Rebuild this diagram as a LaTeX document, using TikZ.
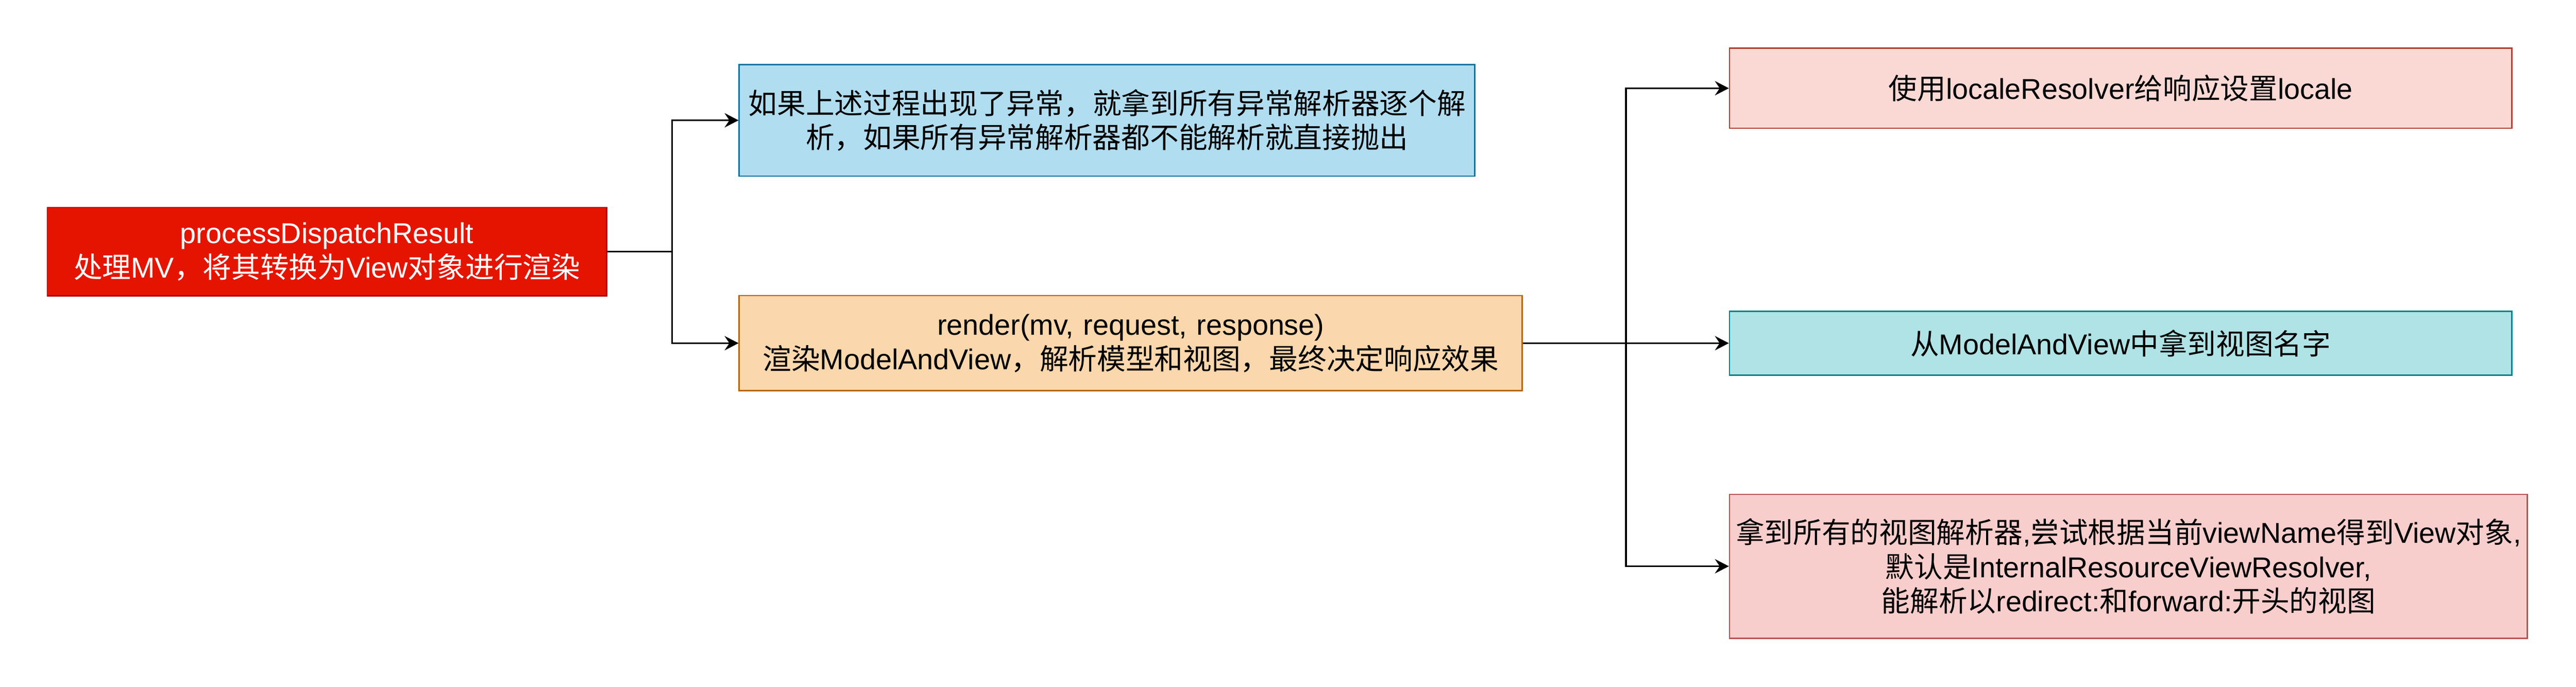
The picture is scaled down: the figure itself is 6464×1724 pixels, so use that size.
\documentclass[tikz,border=0pt]{standalone}
\usepackage{fontspec}
\setmainfont{Liberation Sans}
\newfontfamily\cjkfont{Noto Sans CJK SC}
\newcommand\zh[1]{{\cjkfont #1}}
\usetikzlibrary{arrows.meta}
\definecolor{redfill}{HTML}{E51400}
\definecolor{redline}{HTML}{B20000}
\definecolor{bluefill}{HTML}{B1DDF0}
\definecolor{blueline}{HTML}{10739E}
\definecolor{orafill}{HTML}{FAD7AC}
\definecolor{oraline}{HTML}{B46504}
\definecolor{pinkfill}{HTML}{FAD9D5}
\definecolor{pinkline}{HTML}{AE4132}
\definecolor{tealfill}{HTML}{B0E3E6}
\definecolor{tealline}{HTML}{0E8088}
\definecolor{rosefill}{HTML}{F8CECC}
\definecolor{roseline}{HTML}{B85450}
\tikzset{
  box/.style={draw, line width=0.9pt, rectangle, inner sep=0pt, align=center,
    font=\fontsize{18pt}{21.6pt}\selectfont},
  arr/.style={line width=1pt, -{Stealth[length=8.75pt, width=9pt, inset=3pt]}},
  conn/.style={line width=1pt}
}
\begin{document}
\begin{tikzpicture}[x=0.25pt, y=-0.25pt]
\useasboundingbox (0,0) rectangle (6464,1724);
\fill[white] (0,0) rectangle (6464,1724);

\node[box, fill=redfill, draw=redline, text=white, text width=350.75pt, minimum height=55.5pt]
  (red) at (820.5,632) {processDispatchResult\\\zh{处理}MV\zh{，将其转换为}View\zh{对象进行渲染}};

\node[box, fill=bluefill, draw=blueline, text width=461.5pt, minimum height=70pt]
  (blue) at (2778,302) {\zh{如果上述过程出现了异常，就拿到所有异常解析器逐个解}\\\zh{析，如果所有异常解析器都不能解析就直接抛出}};

\node[box, fill=orafill, draw=oraline, text width=491.25pt, minimum height=59.75pt]
  (orange) at (2837.5,861.5) {render(mv, request, response)\\\zh{渲染}ModelAndView\zh{，解析模型和视图，最终决定响应效果}};

\node[box, fill=pinkfill, draw=pinkline, text width=490.75pt, minimum height=50.25pt]
  (locale) at (5321.5,221.5) {\zh{使用}localeResolver\zh{给响应设置}locale};

\node[box, fill=tealfill, draw=tealline, text width=490.75pt, minimum height=40.25pt]
  (teal) at (5321.5,861.5) {\zh{从}ModelAndView\zh{中拿到视图名字}};

\node[box, fill=rosefill, draw=roseline, text width=500.5pt, minimum height=90.25pt]
  (rose) at (5341,1421.5) {\zh{拿到所有的视图解析器},\zh{尝试根据当前}viewName\zh{得到}View\zh{对象},\\\zh{默认是}InternalResourceViewResolver,\\\zh{能解析以}redirect:\zh{和}forward:\zh{开头的视图}};

\coordinate (j1) at (1687,632);
\coordinate (j2) at (4080,861.5);

\draw[conn] (red.east) -- (j1);
\draw[arr] (j1) |- (blue.west);
\draw[arr] (j1) |- (orange.west);
\draw[arr] (orange.east) -- (teal.west);
\draw[arr] (j2) |- (locale.west);
\draw[arr] (j2) |- (rose.west);
\end{tikzpicture}
\end{document}
